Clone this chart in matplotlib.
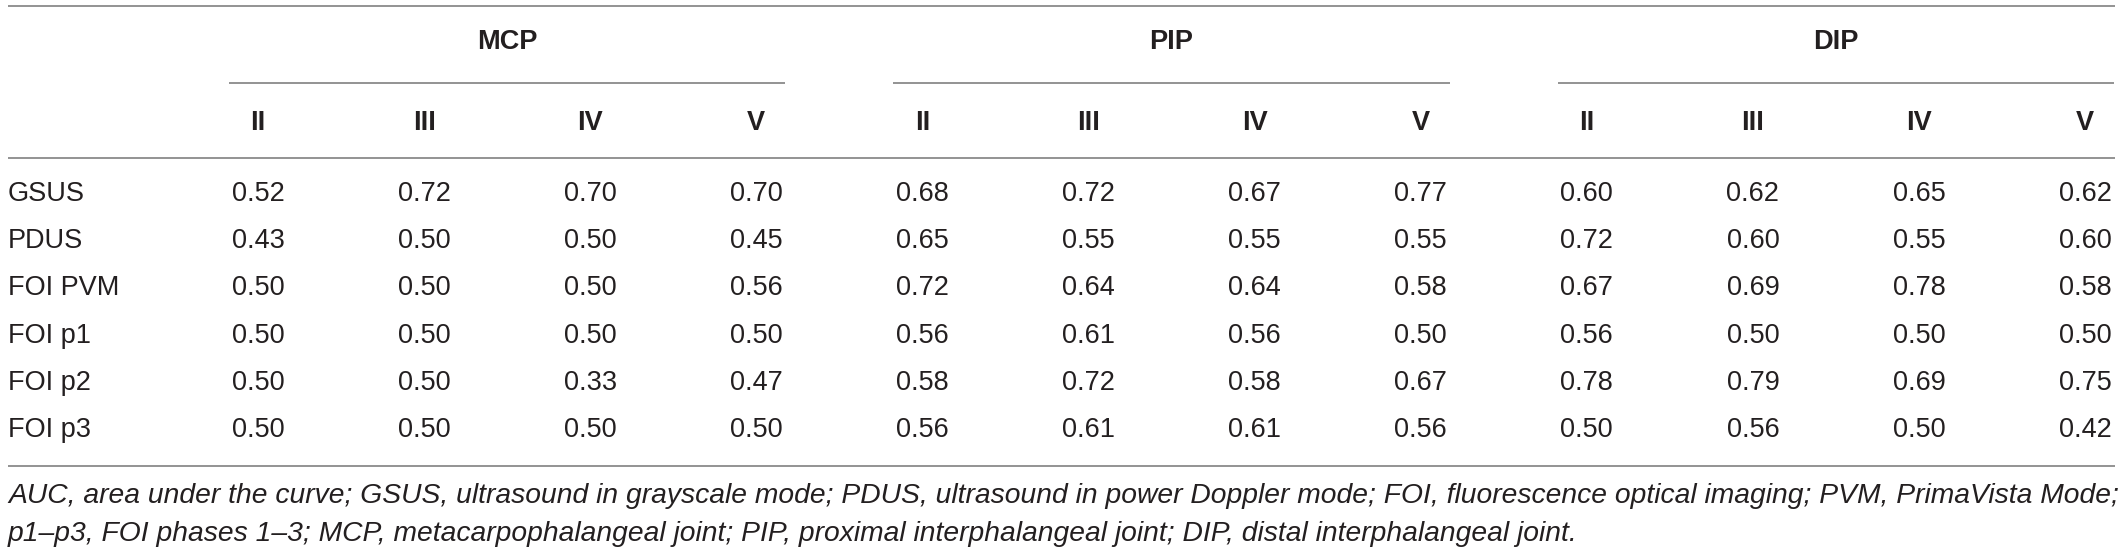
import matplotlib.pyplot as plt
import matplotlib

matplotlib.rcParams['font.family'] = ['Liberation Sans', 'DejaVu Sans']

groups = ['MCP', 'PIP', 'DIP']
fingers = ['II', 'III', 'IV', 'V']
methods = ['GSUS', 'PDUS', 'FOI PVM', 'FOI p1', 'FOI p2', 'FOI p3']

mcp = [[0.52, 0.72, 0.70, 0.70],
       [0.43, 0.50, 0.50, 0.45],
       [0.50, 0.50, 0.50, 0.56],
       [0.50, 0.50, 0.50, 0.50],
       [0.50, 0.50, 0.33, 0.47],
       [0.50, 0.50, 0.50, 0.50]]
pip = [[0.68, 0.72, 0.67, 0.77],
       [0.65, 0.55, 0.55, 0.55],
       [0.72, 0.64, 0.64, 0.58],
       [0.56, 0.61, 0.56, 0.50],
       [0.58, 0.72, 0.58, 0.67],
       [0.56, 0.61, 0.61, 0.56]]
dip = [[0.60, 0.62, 0.65, 0.62],
       [0.72, 0.60, 0.55, 0.60],
       [0.67, 0.69, 0.78, 0.58],
       [0.56, 0.50, 0.50, 0.50],
       [0.78, 0.79, 0.69, 0.75],
       [0.50, 0.56, 0.50, 0.42]]

footnote = [
    'AUC, area under the curve; GSUS, ultrasound in grayscale mode; PDUS, ultrasound in power Doppler mode; '
    'FOI, fluorescence optical imaging; PVM, PrimaVista Mode;',
    'p1\u2013p3, FOI phases 1\u20133; MCP, metacarpophalangeal joint; PIP, proximal interphalangeal joint; '
    'DIP, distal interphalangeal joint.',
]

W, H = 2120, 552
fig = plt.figure(figsize=(W / 100, H / 100), dpi=100)
ax = fig.add_axes([0, 0, 1, 1])
ax.set_xlim(0, W)
ax.set_ylim(H, 0)
ax.axis('off')

txt = '#231f20'
rule = '#808080'
fs = 19.5

col0, step = 258, 166.1
left, right = 8, 2115
row0, row_step = 194, 47.2

ax.hlines([6, 158, 466], left, right, color=rule, lw=1.2)

tables = [mcp, pip, dip]
for g, (name, values) in enumerate(zip(groups, tables)):
    xs = [col0 + step * (4 * g + j) for j in range(4)]
    ax.hlines(83, xs[0] - 29, xs[-1] + 29, color=rule, lw=1.2)
    ax.text((xs[0] + xs[-1]) / 2, 42, name, ha='center', va='center',
            fontsize=fs, fontweight='bold', color=txt)
    for j, f in enumerate(fingers):
        ax.text(xs[j], 123, f, ha='center', va='center',
                fontsize=fs, fontweight='bold', color=txt)
    for i, row in enumerate(values):
        for j, v in enumerate(row):
            ax.text(xs[j], row0 + row_step * i, f'{v:.2f}', ha='center', va='center',
                    fontsize=fs, color=txt)

for i, m in enumerate(methods):
    ax.text(left, row0 + row_step * i, m, ha='left', va='center', fontsize=fs, color=txt)

# footnote: size it so the first line runs to the right rule like in the source
notes = [ax.text(left, 496 + 38 * k, line, ha='left', va='center', fontsize=17.6,
                 style='italic', color=txt) for k, line in enumerate(footnote)]
renderer = fig.canvas.get_renderer()
w = notes[0].get_window_extent(renderer).width
nfs = 17.6 * (2108 - left) / w
for t in notes:
    t.set_fontsize(nfs)

plt.savefig('out.png', dpi=100, facecolor='white')
plt.close()
